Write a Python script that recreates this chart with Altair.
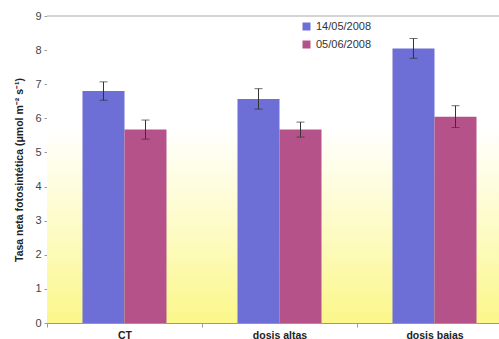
import altair as alt
import pandas as pd

# Net photosynthetic rate per treatment and sampling date
categories = ["CT", "dosis altas", "dosis bajas"]
dates = ["14/05/2008", "05/06/2008"]
rate_may = [6.80, 6.57, 8.05]
rate_jun = [5.67, 5.67, 6.05]
err_may = [0.27, 0.30, 0.29]
err_jun = [0.28, 0.22, 0.32]
y_ticks = [0, 1, 2, 3, 4, 5, 6, 7, 8, 9]

rows = []
for i, c in enumerate(categories):
    for d, vals, errs in ((dates[0], rate_may, err_may), (dates[1], rate_jun, err_jun)):
        rows.append({"cat": c, "fecha": d, "valor": vals[i],
                     "lo": vals[i] - errs[i], "hi": vals[i] + errs[i]})
df = pd.DataFrame(rows)

W, H = 452, 307
font = "Liberation Sans"

x_enc = alt.X("cat:N", sort=categories,
              scale=alt.Scale(range=[0, 465], paddingInner=0, paddingOuter=0),
              axis=alt.Axis(title=None, labelAngle=0, labelFont=font, labelFontSize=10.5,
                            labelFontWeight="bold", labelColor="#222", tickBand="extent",
                            tickSize=4, tickColor="#999", domainColor="#999",
                            labelPadding=3))
xoff = alt.XOffset("fecha:N", sort=dates,
                   scale=alt.Scale(paddingInner=0, paddingOuter=0.845))
color = alt.Color("fecha:N", sort=dates,
                  scale=alt.Scale(domain=dates, range=["#6d6ed6", "#b5528a"]),
                  legend=alt.Legend(title=None, orient="none", legendX=254, legendY=5,
                                    symbolType="square", symbolSize=64, symbolStrokeWidth=0,
                                    labelFont=font, labelFontSize=11, labelColor="#333",
                                    rowPadding=6, symbolOpacity=1))

# shared y axis definition, repeated on every layer so the merged axis keeps it
y_axis = alt.Axis(title="Tasa neta fotosintética (μmol m⁻² s⁻¹)", values=y_ticks,
                  labelOverlap=False,
                  titleFont=font, titleFontSize=10.5, titleFontWeight="bold",
                  titleColor="#222", titlePadding=10,
                  labelFont=font, labelFontSize=11, labelColor="#444",
                  tickSize=3, tickColor="#999", domainColor="#999", grid=False,
                  labelPadding=3)
y_scale = alt.Scale(domain=[0, 9], nice=False)

# pale yellow wash fading to white towards the top of the plot
background = alt.Chart(pd.DataFrame({"a": [0]})).mark_rect(
    color=alt.Gradient(
        gradient="linear", x1=0, y1=1, x2=0, y2=0,
        stops=[alt.GradientStop(color="#fbf78a", offset=0),
               alt.GradientStop(color="#fdfbc4", offset=0.3),
               alt.GradientStop(color="#ffffff", offset=0.64),
               alt.GradientStop(color="#ffffff", offset=1)])
).encode(x=alt.value(0), x2=alt.value(W), y=alt.value(0), y2=alt.value(H))

bars = alt.Chart(df).mark_bar(opacity=1).encode(
    x=x_enc,
    xOffset=xoff,
    y=alt.Y("valor:Q", scale=y_scale, axis=y_axis),
    color=color,
)

top_line = alt.Chart(pd.DataFrame({"v": [9]})).mark_rule(color="#aaa", strokeWidth=1).encode(
    y=alt.Y("v:Q", scale=y_scale, axis=y_axis), x=alt.value(0), x2=alt.value(W))

xs = dict(x=alt.X("cat:N", sort=categories), xOffset=alt.XOffset("fecha:N", sort=dates))
whisker = alt.Chart(df).mark_rule(color="#333", strokeWidth=1).encode(
    y=alt.Y("lo:Q", scale=y_scale, axis=y_axis), y2="hi:Q", **xs)
cap_lo = alt.Chart(df).mark_tick(color="#333", thickness=1, size=8, orient="horizontal").encode(
    y=alt.Y("lo:Q", scale=y_scale, axis=y_axis), **xs)
cap_hi = alt.Chart(df).mark_tick(color="#333", thickness=1, size=8, orient="horizontal").encode(
    y=alt.Y("hi:Q", scale=y_scale, axis=y_axis), **xs)

chart = alt.layer(background, bars, top_line, whisker, cap_lo, cap_hi).properties(
    width=W, height=H,
    autosize=alt.AutoSizeParams(type="none"),
    padding={"left": 47, "top": 16, "right": 0, "bottom": 16},
    background="white",
).configure_view(stroke=None)

chart.save("out.html", embed_options={"renderer": "svg", "actions": False})
